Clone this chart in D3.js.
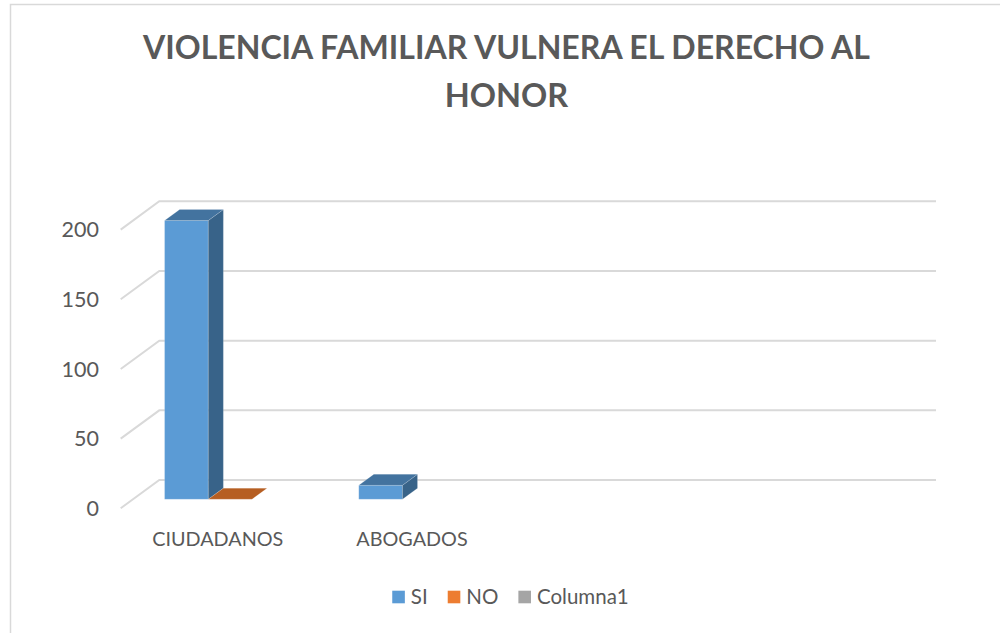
<!DOCTYPE html>
<html><head><meta charset="utf-8">
<script src="https://cdn.jsdelivr.net/npm/d3@7"></script>
<style>body{margin:0;background:#fff}svg{display:block}</style>
</head><body>
<svg id="c" width="1000" height="633"></svg>
<script>
const titleLines = ["VIOLENCIA FAMILIAR VULNERA EL DERECHO AL", "HONOR"];
const categories = ["CIUDADANOS", "ABOGADOS", "", " "];
const series = ["SI", "NO", "Columna1"];
const valuesSI = [200, 10, null, null];
const valuesNO = [0, null, null, null];
const valuesCol1 = [null, null, null, null];
const yTicks = [0, 50, 100, 150, 200];

const seriesValues = [valuesSI, valuesNO, valuesCol1];
const colors = ["#5B9BD5", "#ED7D31", "#A5A5A5"];
const topColors = ["#43739F", "#B65E22", "#7E7E7E"];
const sideColors = ["#386389", "#9A4F1C", "#6B6B6B"];
const textColor = "#595959";
const gridColor = "#D9D9D9";

const svg = d3.select("#c");
svg.append("rect").attr("x",10.5).attr("y",4.5).attr("width",1000).attr("height",640)
  .attr("fill","#fff").attr("stroke",gridColor).attr("stroke-width",1.5);

// title
const tg = svg.append("g");
tg.append("text").attr("x",506.5).attr("y",59.3).attr("text-anchor","middle")
  .attr("font-family","Lato").attr("font-weight","bold").attr("font-size",32.5)
  .attr("fill",textColor).attr("textLength",727).attr("lengthAdjust","spacingAndGlyphs")
  .text(titleLines[0]);
tg.append("text").attr("x",506.5).attr("y",106.8).attr("text-anchor","middle")
  .attr("font-family","Lato").attr("font-weight","bold").attr("font-size",32.5)
  .attr("fill",textColor).text(titleLines[1]);

// 3D geometry
const backLeft = 159.3, backRight = 936;
const depthDX = -38.6, depthDY = 28.3;
const barD0 = 0.29, barD1 = 0.68;
const y = d3.scaleLinear().domain([0,200]).range([480,201.3]);
const x0 = d3.scaleBand().domain(categories).range([backLeft, backRight]).paddingInner(0).paddingOuter(0);
const x1 = d3.scaleBand().domain(series).range([0, x0.bandwidth()]).paddingInner(0).paddingOuter(0.722);
const P = (xb, v, d) => [xb + depthDX*d, y(v) + depthDY*d];

// gridlines
const grid = svg.append("g").attr("stroke",gridColor).attr("stroke-width",2).attr("fill","none");
yTicks.forEach(t => {
  const a = P(backLeft, t, 0), b = P(backRight, t, 0), c = P(backLeft, t, 1);
  grid.append("path").attr("d", `M${c[0]},${c[1]}L${a[0]},${a[1]}L${b[0]},${b[1]}`);
});

// y labels
svg.append("g").selectAll("text").data(yTicks).join("text")
  .attr("x", 99).attr("y", d => P(backLeft, d, 1)[1] + 7.8)
  .attr("text-anchor","end").attr("font-family","Lato").attr("font-size",21.5)
  .attr("fill",textColor).text(d => d);

// bars
const bars = svg.append("g");
categories.forEach((cat, ci) => {
  series.forEach((s, si) => {
    const v = seriesValues[si][ci];
    if (v === null || v === undefined) return;
    const xl = x0(cat) + x1(s), xr = xl + x1.bandwidth();
    const fl0 = P(xl,0,barD1), fr0 = P(xr,0,barD1), fl1 = P(xl,v,barD1), fr1 = P(xr,v,barD1);
    const bl1 = P(xl,v,barD0), br1 = P(xr,v,barD0), br0 = P(xr,0,barD0);
    const poly = pts => "M" + pts.map(p => p.join(",")).join("L") + "Z";
    const g = bars.append("g").attr("stroke","rgba(255,255,255,0.25)").attr("stroke-width",0.6);
    if (v > 0) {
      g.append("path").attr("d", poly([fl0, fr0, fr1, fl1])).attr("fill", colors[si]);
      g.append("path").attr("d", poly([fr0, br0, br1, fr1])).attr("fill", sideColors[si]);
    }
    g.append("path").attr("d", poly([fl1, fr1, br1, bl1])).attr("fill", topColors[si]);
  });
});

// category labels (front plane)
svg.append("g").selectAll("text").data(categories.slice(0,2)).join("text")
  .attr("x", d => x0(d) + x0.bandwidth()/2 + depthDX)
  .attr("y", 545.7).attr("text-anchor","middle").attr("font-family","Lato")
  .attr("font-size",19.8).attr("fill",textColor).text(d => d);

// legend
const lg = svg.append("g");
let cx = 0;
series.forEach((s, i) => {
  const it = lg.append("g").attr("transform", `translate(${cx},0)`);
  it.append("rect").attr("x",0).attr("y",590.7).attr("width",12.6).attr("height",12.6).attr("fill",colors[i]);
  const t = it.append("text").attr("x",18.6).attr("y",604.3).attr("font-family","Lato")
    .attr("font-size",20.5).attr("fill",textColor).text(s);
  const w = t.node().getComputedTextLength();
  cx += 18.6 + w + 20;
});
const total = cx - 20;
lg.attr("transform", `translate(${510.5 - total/2},0)`);
</script>
</body></html>
